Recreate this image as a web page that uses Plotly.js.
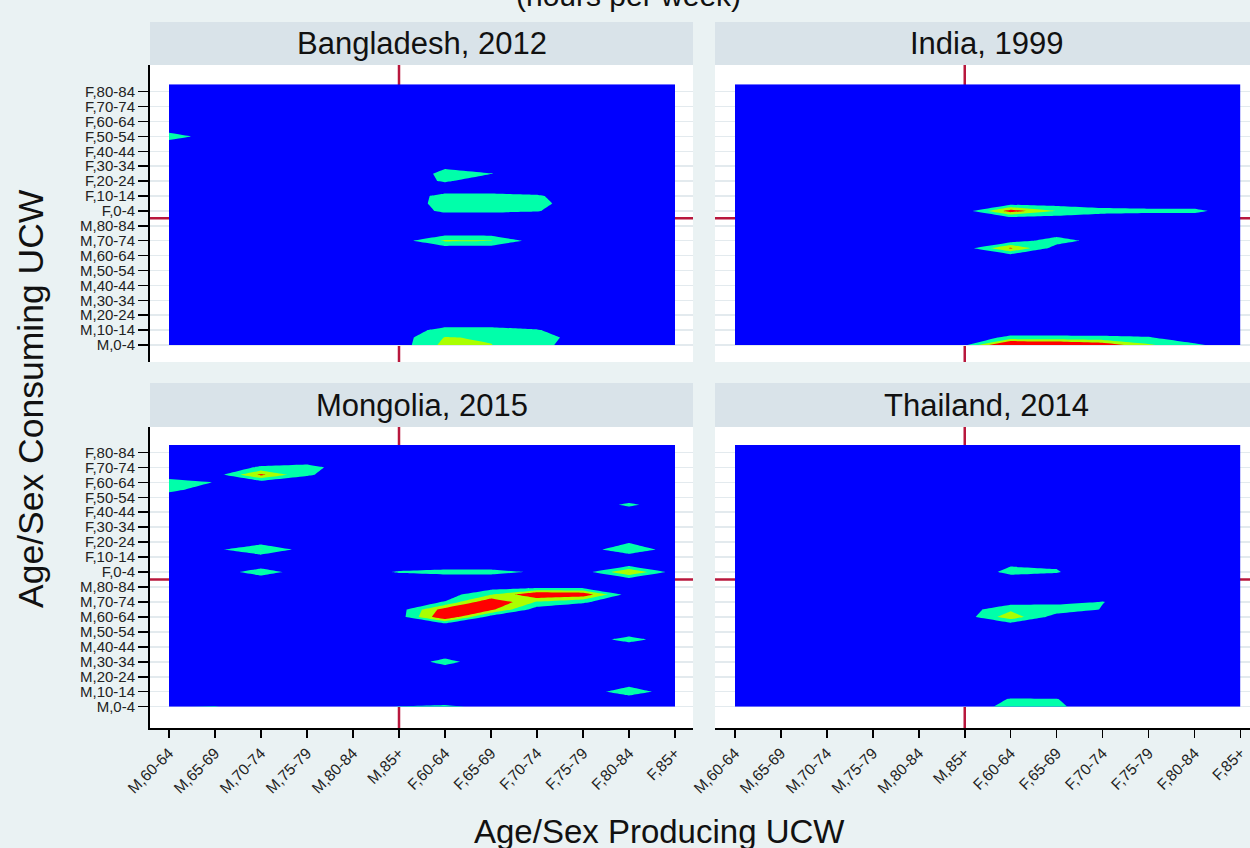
<!DOCTYPE html>
<html><head><meta charset="utf-8">
<script src="https://cdn.plot.ly/plotly-3.0.1.min.js"></script>
<style>html,body{margin:0;padding:0;background:#EAF2F3;}#chart{width:1250px;height:848px;}</style>
</head><body><div id="chart"></div>
<script>
// ---------- data ----------
const producerGroups = ['M,60-64','M,65-69','M,70-74','M,75-79','M,80-84','M,85+',
                        'F,60-64','F,65-69','F,70-74','F,75-79','F,80-84','F,85+'];
const ageBands = ['0-4','5-9','10-14','15-19','20-24','25-29','30-34','35-39','40-44',
                  '45-49','50-54','55-59','60-64','65-69','70-74','75-79','80-84','85+'];
const consumerGroups = ageBands.map(a => 'M,' + a).concat(ageBands.map(a => 'F,' + a));
const consumerTickIdx = [0,2,4,6,8,10,12,14,16,18,20,22,24,26,28,30,32,34];
const panelTitles = ['Bangladesh, 2012','India, 1999','Mongolia, 2015','Thailand, 2014'];

// cells: [producer index, consumer index, hours per week]
const bangladeshCells = [
  [0,28,1.9],
  [6,22,1.2],[6,23,1.35],[7,23,1.05],[6,24,0.8],
  [6,18,1.3],[7,18,1.3],[8,18,1.1],[6,19,1.6],[7,19,1.6],[8,19,1.5],[6,20,1.5],[7,20,1.5],[8,20,1.2],
  [6,14,3.3],[7,14,3.1],
  [6,0,3.6],[7,0,3.05],[8,0,1.6],[6,1,3.1],[7,1,2.8],[8,1,2.0],[6,2,1.6],[7,2,1.6],[8,2,1.1]
];
const indiaCells = [
  [6,18,6.0],[7,18,2.9],[8,18,1.6],[9,18,1.4],[10,18,1.4],
  [6,13,5.2],[7,14,2.0],
  [5,0,0.5],[6,0,9.0],[7,0,8.0],[8,0,6.5],[9,0,3.3],[10,0,1.3],
  [6,1,1.4],[7,1,1.4],[8,1,1.3],[9,1,1.1]
];
const mongoliaCells = [
  [0,30,1.8],[0,29,1.5],[1,30,0.95],
  [2,31,5.5],[3,31,1.2],[3,32,1.6],[2,32,1.2],
  [1,21,0.5],[2,21,3.1],
  [2,18,1.9],
  [4,18,0.2],[5,18,1.15],[6,18,1.5],[7,18,1.5],[8,18,0.8],
  [6,12,7.0],[6,13,6.0],[7,13,5.5],[7,14,7.0],[6,14,1.1],[8,14,2.8],[7,15,2.8],[8,15,7.0],[9,15,6.5],[9,14,1.2],
  [6,6,1.5],[6,5,0.4],[6,7,0.4],
  [10,27,1.3],[10,21,2.4],[10,22,0.8],[10,18,5.05],[10,9,1.6],[10,2,2.0],[10,3,0.5],
  [0,0,0.9],[1,0,1.1],[4,0,0.5],[5,0,1.05],[6,0,1.3],[7,0,0.6]
];
const thailandCells = [
  [6,18,1.4],[7,18,1.1],[6,19,0.85],[7,19,0.85],[6,17,0.3],[7,17,0.3],
  [6,12,4.2],[6,13,2.6],[7,13,2.2],[7,14,0.35],[8,14,1.05],[8,13,0.9],
  [6,0,1.6],[7,0,1.3],[6,1,1.1],[7,1,1.05]
];
const contourStart = 1, contourEnd = 5, contourStep = 2;
const bandColors = ['#0000FF','#00FFAA','#AAFF00','#FF0000'];

// ---------- build ----------
const W = 1250, H = 848;
const fx = p => p / W, fy = p => 1 - p / H;
const xs = producerGroups.map((_, i) => i);
const ys = consumerGroups.map((_, i) => i);
function buildZ(cells) {
  const z = ys.map(() => xs.map(() => 0));
  cells.forEach(([x, y, v]) => { z[y][x] = v; });
  return z;
}
const colorscale = [[0,bandColors[0]],[1/6,bandColors[0]],[1/6,bandColors[1]],[0.5,bandColors[1]],
                    [0.5,bandColors[2]],[5/6,bandColors[2]],[5/6,bandColors[3]],[1,bandColors[3]]];
const allCells = [bangladeshCells, indiaCells, mongoliaCells, thailandCells];
const traces = allCells.map((cells, k) => ({
  type: 'contour', x: xs, y: ys, z: buildZ(cells),
  xaxis: 'x' + (k ? k + 1 : ''), yaxis: 'y' + (k ? k + 1 : ''),
  autocontour: false,
  contours: {start: contourStart, end: contourEnd, size: contourStep, coloring: 'fill', showlines: false},
  line: {width: 0, smoothing: 0},
  colorscale: colorscale, showscale: false, hoverinfo: 'skip'
}));

const font = 'Liberation Sans, Arial, sans-serif';
const yTickFont = {family: font, size: 15, color: '#222'};
const xTickFont = {family: font, size: 15.5, color: '#222'};
const leftDom = [fx(150), fx(693)], rightDom = [fx(715), 1];
const topDom = [fy(362), fy(65)], botDom = [fy(728), fy(427)];
const leftRange = [-19/46, 524/46], rightRange = [-20/45.95, 515/45.95];
const topRange = [-17/7.45, 280/7.45], botRange = [-21.3/7.48, 279.7/7.48];

function xAxis(dom, rng, anchor, bottom) {
  return {domain: dom, range: rng, anchor: anchor, showgrid: false, zeroline: false, automargin: false,
    showline: bottom, linecolor: '#000', linewidth: 2,
    tickmode: 'array', tickvals: bottom ? xs : [], ticktext: bottom ? producerGroups : [],
    ticks: bottom ? 'outside' : '', ticklen: 8, tickwidth: 1.5, tickcolor: '#000',
    showticklabels: bottom, tickangle: -45, tickfont: xTickFont, fixedrange: true};
}
function yAxis(dom, rng, anchor, left) {
  return {domain: dom, range: rng, anchor: anchor, zeroline: false, automargin: false,
    showgrid: true, gridcolor: '#E3EAEE', gridwidth: 1.5,
    showline: left, linecolor: '#000', linewidth: 2,
    tickmode: 'array', tickvals: consumerTickIdx, ticktext: consumerTickIdx.map(i => consumerGroups[i]),
    ticks: left ? 'outside' : '', ticklen: 10, tickwidth: 1.5, tickcolor: '#000',
    showticklabels: left, tickfont: yTickFont, fixedrange: true};
}

const refLine = {color: '#B8173D', width: 2.5};
const shapes = [];
const annotations = [];
const panels = [
  {xd: leftDom, yd: topDom, hy: [22, 65]},
  {xd: rightDom, yd: topDom, hy: [22, 65]},
  {xd: leftDom, yd: botDom, hy: [383, 427]},
  {xd: rightDom, yd: botDom, hy: [383, 427]}
];
panels.forEach((p, k) => {
  const s = k ? String(k + 1) : '';
  shapes.push({type: 'line', xref: 'x' + s, yref: 'y' + s + ' domain', x0: 5, x1: 5, y0: 0, y1: 1, line: refLine, layer: 'below'});
  shapes.push({type: 'line', xref: 'x' + s + ' domain', yref: 'y' + s, x0: 0, x1: 1, y0: 17, y1: 17, line: refLine, layer: 'below'});
  const hx0 = p.xd[0], hx1 = (k % 2) ? fx(1258) : p.xd[1];
  shapes.push({type: 'rect', xref: 'paper', yref: 'paper', x0: hx0, x1: Math.min(hx1, 1), y0: fy(p.hy[1]), y1: fy(p.hy[0]),
    fillcolor: '#D9E3E9', line: {width: 0}});
  annotations.push({text: panelTitles[k], xref: 'paper', yref: 'paper', x: (hx0 + hx1) / 2, y: fy((p.hy[0] + p.hy[1]) / 2),
    xanchor: 'center', yanchor: 'middle', showarrow: false, font: {family: font, size: 31, color: '#111'}});
});
annotations.push({text: 'Age/Sex Consuming UCW', xref: 'paper', yref: 'paper', x: fx(31), y: fy(399), textangle: -90,
  xanchor: 'center', yanchor: 'middle', showarrow: false, font: {family: font, size: 35.5, color: '#111'}});
annotations.push({text: 'Age/Sex Producing UCW', xref: 'paper', yref: 'paper', x: fx(659), y: fy(831),
  xanchor: 'center', yanchor: 'middle', showarrow: false, font: {family: font, size: 33, color: '#111'}});
annotations.push({text: '(hours per week)', xref: 'paper', yref: 'paper', x: fx(628), y: fy(-4),
  xanchor: 'center', yanchor: 'middle', showarrow: false, font: {family: font, size: 30, color: '#111'}});

const layout = {
  width: W, height: H, margin: {l: 0, r: 0, t: 0, b: 0},
  paper_bgcolor: '#EAF2F3', plot_bgcolor: '#FFFFFF', showlegend: false,
  font: {family: font},
  xaxis: xAxis(leftDom, leftRange, 'y', false), yaxis: yAxis(topDom, topRange, 'x', true),
  xaxis2: xAxis(rightDom, rightRange, 'y2', false), yaxis2: yAxis(topDom, topRange, 'x2', false),
  xaxis3: xAxis(leftDom, leftRange, 'y3', true), yaxis3: yAxis(botDom, botRange, 'x3', true),
  xaxis4: xAxis(rightDom, rightRange, 'y4', true), yaxis4: yAxis(botDom, botRange, 'x4', false),
  shapes: shapes, annotations: annotations
};
Plotly.newPlot('chart', traces, layout, {displayModeBar: false, staticPlot: true});
</script></body></html>
